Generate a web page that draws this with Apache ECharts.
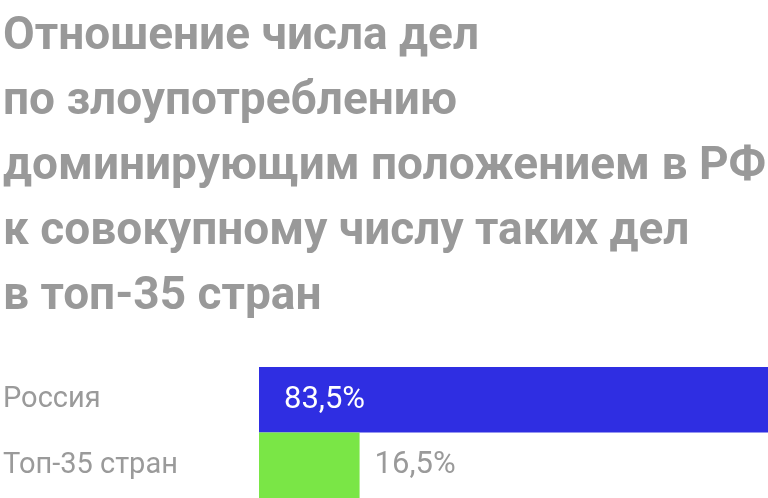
<!DOCTYPE html>
<html>
<head>
<meta charset="utf-8">
<script src="https://cdn.jsdelivr.net/npm/echarts@6/dist/echarts.min.js"></script>
<style>
  html, body { margin: 0; padding: 0; background: #fff; }
  #chart { width: 768px; height: 498px; }
</style>
</head>
<body>
<div id="chart"></div>
<script>
const titleLines = [
  "Отношение числа дел",
  "по злоупотреблению",
  "доминирующим положением в РФ",
  "к совокупному числу таких дел",
  "в топ-35 стран"
];
const categories = ["Россия", "Топ-35 стран"];
const values = [83.5, 16.5];
const barColors = ["#2f2ee2", "#7ae646"];

const chart = echarts.init(document.getElementById("chart"));

const option = {
  animation: false,
  title: {
    text: titleLines.join("\n"),
    left: -2,
    top: 0,
    textStyle: {
      fontFamily: "Roboto",
      fontWeight: "bold",
      fontSize: 46,
      lineHeight: 65,
      color: "#999999"
    }
  },
  grid: { left: 257, right: 0, top: 367, bottom: 0 },
  xAxis: {
    type: "value",
    min: 0,
    max: 83.5,
    show: false
  },
  yAxis: {
    type: "category",
    data: categories,
    inverse: true,
    axisLine: { show: false },
    axisTick: { show: false },
    axisLabel: {
      align: "left",
      margin: 256,
      fontFamily: "Roboto",
      fontSize: 29,
      color: "#9a9a9a"
    }
  },
  series: [
    {
      type: "bar",
      barWidth: "100%",
      data: values.map((v, i) => ({
        value: v,
        itemStyle: { color: barColors[i] },
        label: i === 0
          ? { position: "insideLeft", distance: 25, color: "#ffffff" }
          : { position: "right", distance: 15, color: "#9a9a9a" }
      })),
      label: {
        show: true,
        fontFamily: "Roboto",
        fontSize: 31,
        formatter: p => p.value.toFixed(1).replace(".", ",") + "%"
      }
    }
  ]
};

chart.setOption(option);
</script>
</body>
</html>
